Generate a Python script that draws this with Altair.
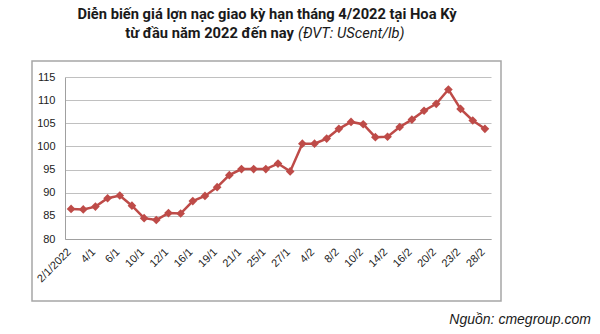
import altair as alt
import pandas as pd

dates = ["2/1/2022", "3/1", "4/1", "5/1", "6/1", "7/1", "10/1", "11/1", "12/1", "13/1",
         "16/1", "18/1", "19/1", "20/1", "21/1", "24/1", "25/1", "26/1", "27/1", "31/1",
         "4/2", "7/2", "8/2", "9/2", "10/2", "11/2", "14/2", "15/2", "16/2", "17/2",
         "20/2", "22/2", "23/2", "24/2", "28/2"]
prices = [86.5, 86.4, 87.0, 88.8, 89.4, 87.2, 84.5, 84.1, 85.6, 85.5,
          88.2, 89.3, 91.2, 93.8, 95.1, 95.1, 95.1, 96.3, 94.6, 100.6,
          100.6, 101.7, 103.8, 105.3, 104.8, 102.0, 102.1, 104.2, 105.8, 107.7,
          109.2, 112.3, 108.1, 105.6, 103.8]
shown_labels = dates[::2]
y_ticks = [80, 85, 90, 95, 100, 105, 110, 115]

title_line1 = "Diễn biến giá lợn nạc giao kỳ hạn tháng 4/2022 tại Hoa Kỳ"
title_line2_bold = "từ đầu năm 2022 đến nay"
title_line2_italic = "(ĐVT: UScent/lb)"
source_text = "Nguồn: cmegroup.com"

df = pd.DataFrame({"date": dates, "price": prices})
one = pd.DataFrame({"a": [0]})

color = "#be4b48"
W, H = 426, 162

x = alt.X("date:N", sort=dates, title=None,
          scale=alt.Scale(type="point", padding=0.5),
          axis=alt.Axis(values=shown_labels, labelAngle=-45, labelAlign="right",
                        labelBaseline="middle", labelPadding=11, labelOffset=-2,
                        ticks=False, domainColor="#a0a0a0", labelFont="Liberation Sans",
                        labelFontSize=11, labelColor="#222", grid=False))
y = alt.Y("price:Q", title=None,
          scale=alt.Scale(domain=[80, 115], nice=False, zero=False),
          axis=alt.Axis(values=y_ticks, ticks=False, domainColor="#a0a0a0",
                        gridColor="#c0c0c0", labelFont="Liberation Sans",
                        labelFontSize=11, labelColor="#222", labelPadding=10))

base = alt.Chart(df)
line = base.mark_line(color=color, strokeWidth=2.5).encode(x=x, y=y)
pts = base.mark_point(shape="diamond", filled=True, color=color, size=75, opacity=1).encode(x=x, y=y)

box = alt.Chart(one).mark_rect(fill=None, stroke="#a6a6a6", strokeWidth=1.5).encode(
    x=alt.value(-33), x2=alt.value(436), y=alt.value(-16), y2=alt.value(224))

t1 = alt.Chart(one).mark_text(text=title_line1, font="Roboto", fontWeight="bold",
                              fontSize=14.7, align="center", baseline="alphabetic",
                              color="#1a1a1a").encode(x=alt.value(202), y=alt.value(-58))
t2 = alt.Chart(one).mark_text(text=title_line2_bold, font="Roboto", fontWeight="bold",
                              fontSize=14.7, align="right", baseline="alphabetic",
                              color="#1a1a1a").encode(x=alt.value(229), y=alt.value(-39))
t3 = alt.Chart(one).mark_text(text=title_line2_italic, font="Roboto", fontStyle="italic",
                              fontSize=14.7, align="left", baseline="alphabetic",
                              color="#1a1a1a").encode(x=alt.value(233), y=alt.value(-39))
src = alt.Chart(one).mark_text(text=source_text, font="Liberation Sans", fontStyle="italic",
                               fontSize=14, align="right", baseline="alphabetic",
                               color="#1a1a1a").encode(x=alt.value(526), y=alt.value(247))

chart = alt.layer(box, line, pts, t1, t2, t3, src).properties(
    width=W, height=H,
    autosize=alt.AutoSizeParams(type="none"),
    padding={"left": 65, "top": 77, "right": 109, "bottom": 95},
    background="white",
).configure_view(stroke=None)

chart.save("out.html", embed_options={"renderer": "svg", "actions": False})
